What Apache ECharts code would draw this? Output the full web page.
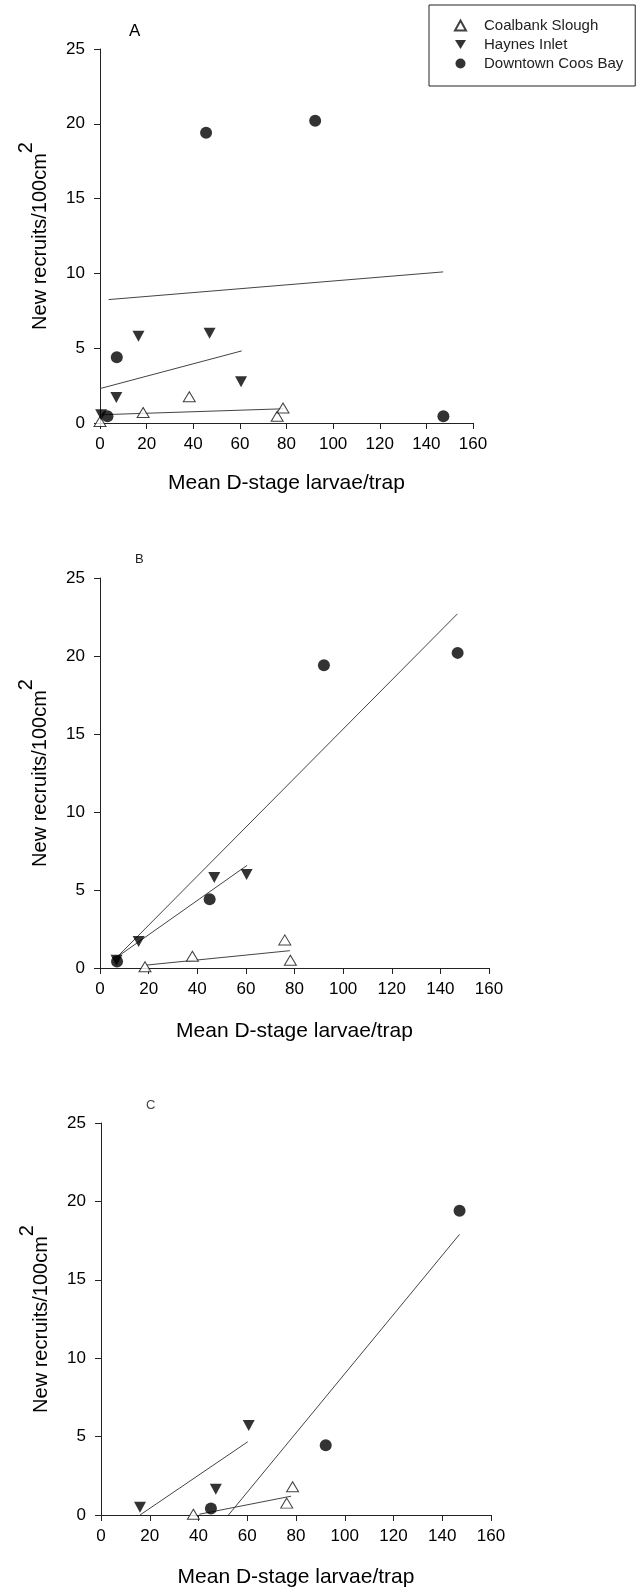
<!DOCTYPE html>
<html>
<head>
<meta charset="utf-8">
<script src="https://cdn.jsdelivr.net/npm/echarts@6/dist/echarts.min.js"></script>
<style>
  html, body { margin: 0; padding: 0; background: #fff; }
  #chart1 { width: 637px; height: 1593px; }
</style>
</head>
<body>
<div id="chart1"></div>
<script>
  var sites = ['Coalbank Slough', 'Haynes Inlet', 'Downtown Coos Bay'];
  var panelLetters = ['A', 'B', 'C'];

  // A
  var coalA = [[0, 0.1], [18.5, 0.7], [38.3, 1.75], [76, 0.45], [78.5, 1.0]];
  var haynesA = [[0.5, 0.55], [7, 1.7], [16.5, 5.8], [47, 6.0], [60.5, 2.75]];
  var downtownA = [[3.2, 0.45], [7.2, 4.4], [45.5, 19.4], [92.3, 20.2], [147.3, 0.45]];
  var coalFitA = [[0, 0.55], [78.6, 0.95]];
  var haynesFitA = [[0, 2.3], [60.8, 4.82]];
  var downtownFitA = [[3.7, 8.25], [147.2, 10.1]];

  // B
  var coalB = [[18.5, 0.08], [38, 0.75], [76, 1.8], [78.3, 0.5]];
  var haynesB = [[6.8, 0.5], [15.9, 1.7], [47, 5.8], [60.3, 6.0]];
  var downtownB = [[7, 0.42], [45.1, 4.4], [92.1, 19.4], [147.1, 20.2]];
  var coalFitB = [[19.3, 0.19], [78.1, 1.11]];
  var haynesFitB = [[7, 0.7], [60.5, 6.58]];
  var downtownFitB = [[7, 0.7], [147, 22.7]];

  // C
  var coalC = [[37.9, 0.05], [76.2, 0.76], [78.6, 1.8]];
  var haynesC = [[16, 0.5], [47.1, 1.65], [60.6, 5.7]];
  var downtownC = [[45.1, 0.42], [92.2, 4.45], [147.1, 19.4]];
  var coalFitC = [[40.4, 0.05], [78, 1.2]];
  var haynesFitC = [[16, 0], [60.2, 4.67]];
  var downtownFitC = [[52.3, 0], [147.1, 17.9]];

  var points = [[coalA, haynesA, downtownA], [coalB, haynesB, downtownB], [coalC, haynesC, downtownC]];
  var fits = [[coalFitA, haynesFitA, downtownFitA], [coalFitB, haynesFitB, downtownFitB], [coalFitC, haynesFitC, downtownFitC]];

  const FONT = 'Liberation Sans, Arial, sans-serif';
  const grids = [
    { left: 100, top: 49, width: 373, height: 374 },
    { left: 100, top: 578, width: 389, height: 390 },
    { left: 101, top: 1123, width: 390, height: 392 }
  ];
  const xNameGaps = [50, 53, 52];

  // marker look per site
  const markers = [
    { symbol: 'triangle', size: [12, 10], itemStyle: { color: '#fff', borderColor: '#111', borderWidth: 1 } },
    { symbol: 'path://M0,0 L12,0 L6,10 Z', size: [12, 11], itemStyle: { color: '#000' } },
    { symbol: 'circle', size: 12, itemStyle: { color: '#000' } }
  ];

  const drawChart = chartId => {
    let myChart = echarts.init(document.getElementById(chartId));
    let option;
    let xAxes = [], yAxes = [], series = [], titles = [];

    grids.forEach((g, i) => {
      xAxes.push({
        gridIndex: i,
        type: 'value',
        min: 0, max: 160, interval: 20,
        name: 'Mean D-stage larvae/trap',
        nameLocation: 'middle',
        nameGap: xNameGaps[i],
        nameTextStyle: { fontFamily: FONT, fontSize: 21, color: '#000' },
        splitLine: { show: false },
        axisLine: { onZero: false, lineStyle: { color: '#222', width: 1 } },
        axisTick: { length: 6, lineStyle: { color: '#222' } },
        axisLabel: { margin: 13, fontFamily: FONT, fontSize: 17, color: '#000' }
      });
      yAxes.push({
        gridIndex: i,
        type: 'value',
        min: 0, max: 25, interval: 5,
        name: '{a|New recruits/100cm}{s|2}',
        nameLocation: 'middle',
        nameRotate: 90,
        nameGap: 50,
        nameTextStyle: {
          rich: {
            a: { fontFamily: FONT, fontSize: 20, color: '#000', lineHeight: 34, verticalAlign: 'bottom' },
            s: { fontFamily: FONT, fontSize: 20, color: '#000', verticalAlign: 'top' }
          }
        },
        splitLine: { show: false },
        axisLine: { show: true, lineStyle: { color: '#222', width: 1 } },
        axisTick: { show: true, length: 6, lineStyle: { color: '#222' } },
        axisLabel: { margin: 15, fontFamily: FONT, fontSize: 17, color: '#000' }
      });

      sites.forEach((site, k) => {
        series.push({
          name: site,
          type: 'scatter',
          xAxisIndex: i, yAxisIndex: i,
          symbol: markers[k].symbol,
          symbolSize: markers[k].size,
          itemStyle: markers[k].itemStyle,
          z: 3,
          data: points[i][k]
        });
        series.push({
          type: 'line',
          xAxisIndex: i, yAxisIndex: i,
          symbol: 'none',
          lineStyle: { color: '#444', width: 1 },
          z: 2,
          silent: true,
          data: fits[i][k]
        });
      });
    });

    titles = [
      { text: panelLetters[0], left: 129, top: 23, textStyle: { fontFamily: FONT, fontSize: 17, fontWeight: 'normal', color: '#000' } },
      { text: panelLetters[1], left: 135, top: 553, textStyle: { fontFamily: FONT, fontSize: 13, fontWeight: 'normal', color: '#222' } },
      { text: panelLetters[2], left: 146, top: 1099, textStyle: { fontFamily: FONT, fontSize: 13, fontWeight: 'normal', color: '#444' } }
    ];
    titles.forEach(t => { t.padding = 0; });

    option = {
      animation: false,
      backgroundColor: '#fff',
      title: titles,
      legend: {
        data: sites,
        orient: 'vertical',
        left: 429,
        top: 5,
        padding: [12, 12, 14, 25],
        itemWidth: 11,
        itemHeight: 10,
        itemGap: 2,
        borderColor: '#222',
        borderWidth: 1,
        textStyle: { fontFamily: FONT, fontSize: 15, color: '#222', lineHeight: 17, padding: [0, 0, 0, 13] }
      },
      grid: grids,
      xAxis: xAxes,
      yAxis: yAxes,
      series: series
    };

    option && myChart.setOption(option);
  };

  drawChart('chart1');
</script>
</body>
</html>
